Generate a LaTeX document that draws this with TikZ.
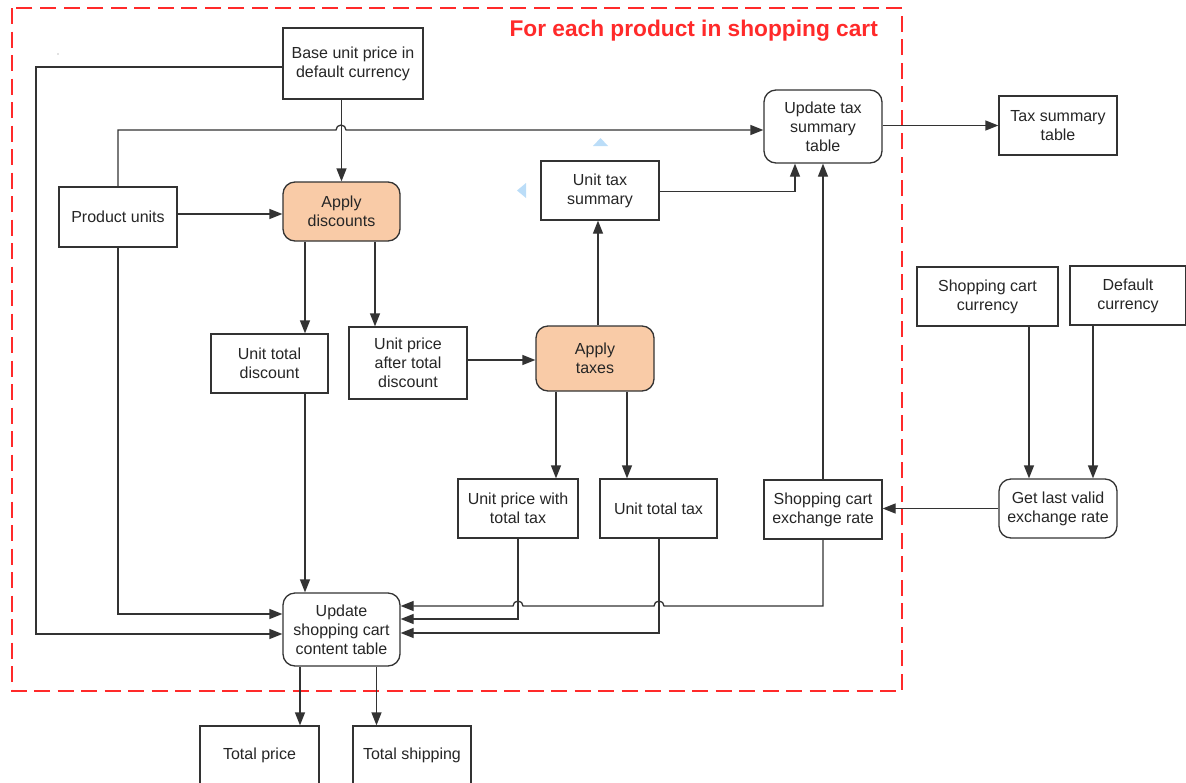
\documentclass[tikz,border=0pt]{standalone}
\usepackage{fontspec}
\setmainfont{Liberation Sans}
\usetikzlibrary{arrows.meta}
\definecolor{linec}{HTML}{333333}
\definecolor{textc}{HTML}{262626}
\definecolor{peach}{HTML}{F9CBA7}
\definecolor{framered}{HTML}{FF2A2A}
\definecolor{hint}{HTML}{BBDDF8}
\begin{document}
\begin{tikzpicture}[x=1pt,y=-1pt,
  box/.style={draw=linec, line width=1.3pt, fill=white, text=textc, align=center, inner sep=0pt,
    font=\fontsize{16}{19}\selectfont},
  rbox/.style={box, rounded corners=12pt},
  proc/.style={rbox, fill=peach},
  sz/.style 2 args={minimum width=#1pt, minimum height=#2pt},
  arr/.style={draw=linec, line width=1.3pt, -{Triangle[length=13pt,width=10pt]}},
  frame/.style={draw=framered, line width=2pt, dash pattern=on 16pt off 7.5pt}]
\useasboundingbox (0,0) rectangle (1186,782);
\clip (0,0) rectangle (1186,782);

% frame and title
\draw[frame] (12,8) rectangle (902,691);
\node[anchor=east, text=framered, font=\bfseries\fontsize{22.7}{26}\selectfont, inner sep=0pt] (title) at (878,30.5) {For each product in shopping cart};

% nodes
\node[box, sz={140}{71}] (base) at (353,63.5) {Base unit price in\\default currency};
\node[box, sz={118}{60}] (prod) at (118,217) {Product units};
\node[proc, sz={117}{59}] (apdisc) at (341.5,211.5) {Apply\\discounts};
\node[rbox, sz={118}{73}] (uptax) at (823,126.5) {Update tax\\summary\\table};
\node[box, sz={118}{59}] (uts) at (600,190.5) {Unit tax\\summary};
\node[box, sz={118}{59}] (tst) at (1058,125.5) {Tax summary\\table};
\node[box, sz={141}{59}] (scc) at (987.5,296.5) {Shopping cart\\currency};
\node[box, sz={116}{59}] (dc) at (1128,295.5) {Default\\currency};
\node[box, sz={117}{59}] (utd) at (269.5,363.5) {Unit total\\discount};
\node[box, sz={118}{72}] (upatd) at (408,363) {Unit price\\after total\\discount};
\node[proc, sz={118}{65}] (aptax) at (595,358.5) {Apply\\taxes};
\node[box, sz={120}{59}] (upwtt) at (518,508.5) {Unit price with\\total tax};
\node[box, sz={117}{59}] (utt) at (658.5,508.5) {Unit total tax};
\node[box, sz={118}{59}] (scer) at (823,509.5) {Shopping cart\\exchange rate};
\node[rbox, sz={118}{59}] (glv) at (1058,508.5) {Get last valid\\exchange rate};
\node[rbox, sz={117}{73}] (ucart) at (341.5,629.5) {Update\\shopping cart\\content table};
\node[box, sz={119}{59}] (tp) at (259.5,755.5) {Total price};
\node[box, sz={118}{59}] (ts) at (412,755.5) {Total shipping};

% hint marks
\fill[hint] (593,146) -- (608,146) -- (600.5,138) -- cycle;
\fill[hint] (526,183) -- (526,198) -- (517,190.5) -- cycle;
\fill[gray] (58,54) circle (0.6pt);

% connectors
\draw[arr] (apdisc.north |- base.south) -- (apdisc.north);
\draw[arr] ([yshift=-3.5pt]base.west) -| (36,634) -- ([yshift=-4.5pt]ucart.west);
\draw[arr] (prod.north) |- (336,130) arc[start angle=180, end angle=0, radius=5pt] -- ([yshift=-3.5pt]uptax.west);
\draw[arr] ([yshift=3pt]prod.east) -- ([yshift=3pt]prod.east -| apdisc.west);
\draw[arr] (prod.south) |- ([yshift=15.5pt]ucart.west);
\draw[arr] ([xshift=-36.5pt]apdisc.south) -- ([xshift=-36.5pt]apdisc.south |- utd.north);
\draw[arr] ([xshift=33.5pt]apdisc.south) -- ([xshift=33.5pt]apdisc.south |- upatd.north);
\draw[arr] ([xshift=-36.5pt]ucart.north |- utd.south) -- ([xshift=-36.5pt]ucart.north);
\draw[arr] ([yshift=3pt]upatd.east) -- ([yshift=3pt]upatd.east -| aptax.west);
\draw[arr] ([xshift=3pt]aptax.north) -- ([xshift=3pt]aptax.north |- uts.south);
\draw[arr] ([yshift=-1pt]uts.east) -| ([xshift=-28pt]uptax.south);
\draw[arr] (scer.north) -- (uptax.south);
\draw[arr] (uptax.east |- tst.west) -- (tst.west);
\draw[arr] ([xshift=-39pt]aptax.south) -- ([xshift=-39pt]aptax.south |- upwtt.north);
\draw[arr] ([xshift=32pt]aptax.south) -- ([xshift=32pt]aptax.south |- utt.north);
\draw[arr] ([xshift=41.5pt]scc.south) -- ([xshift=41.5pt]scc.south |- glv.north);
\draw[arr] ([xshift=-35pt]dc.south) -- ([xshift=-35pt]dc.south |- glv.north);
\draw[arr] (glv.west) -- (glv.west -| scer.east);
\draw[arr] (scer.south) |- (664,606) arc[start angle=0, end angle=180, radius=5pt] -- (523,606) arc[start angle=0, end angle=180, radius=5pt] -- ([yshift=23.5pt]ucart.east);
\draw[arr] (upwtt.south) |- ([yshift=10.5pt]ucart.east);
\draw[arr] ([xshift=0.5pt]utt.south) |- ([yshift=-3.5pt]ucart.east);
\draw[arr] ([xshift=-41.5pt]ucart.south) -- ([xshift=-41.5pt]ucart.south |- tp.north);
\draw[arr] ([xshift=35pt]ucart.south) -- ([xshift=35pt]ucart.south |- ts.north);
\end{tikzpicture}
\end{document}
